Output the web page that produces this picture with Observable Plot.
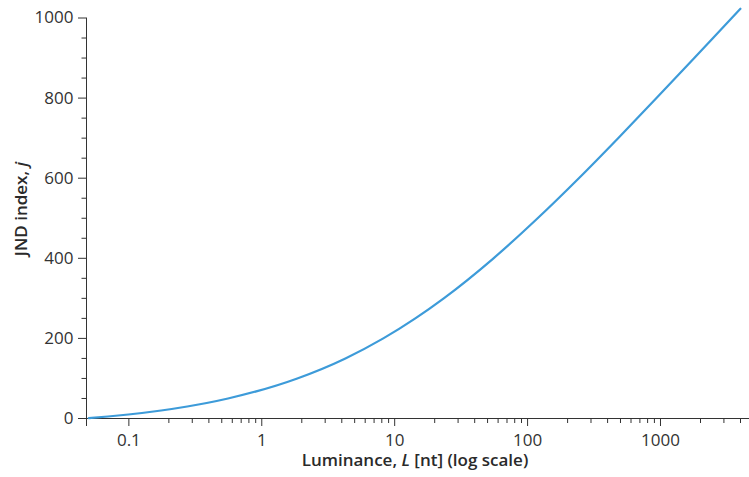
<!DOCTYPE html>
<html>
<head>
<meta charset="utf-8">
<script src="https://cdn.jsdelivr.net/npm/d3@7"></script>
<script src="https://cdn.jsdelivr.net/npm/@observablehq/plot@0.6"></script>
<style>
  html, body { margin: 0; padding: 0; background: #fff; }
  #chart svg { display: block; }
</style>
</head>
<body>
<div id="chart"></div>
<script>
// Luminance (nt)
const luminance = [0.05, 0.0696, 0.0991, 0.175, 0.275, 0.557, 1.85, 4.26, 8.21, 14.3, 23.4, 55.4, 119, 243, 480, 933, 1796, 3437, 3993];
// JND index at those luminances
const jndIndex = [1, 5, 10, 20, 30, 50, 100, 150, 200, 250, 300, 400, 500, 600, 700, 800, 900, 1000, 1023];

const xDomain = [0.048, 4674];
const yDomain = [0, 1000];
const xMajorTicks = [0.1, 1, 10, 100, 1000];
const xTickLabels = ["0.1", "1", "10", "100", "1000"];
const xMinorTicks = [
  0.2, 0.3, 0.4, 0.5, 0.6, 0.7, 0.8, 0.9,
  2, 3, 4, 5, 6, 7, 8, 9,
  20, 30, 40, 50, 60, 70, 80, 90,
  200, 300, 400, 500, 600, 700, 800, 900,
  2000, 3000, 4000];
const yMajorTicks = [0, 200, 400, 600, 800, 1000];
const yMinorTicks = [50, 100, 150, 250, 300, 350, 450, 500, 550, 650, 700, 750, 850, 900, 950];

const data = luminance.map((L, i) => ({L, j: jndIndex[i]}));
const fontFamily = "'Open Sans', 'Noto Sans', sans-serif";
const ink = "#333";

const plot = Plot.plot({
  width: 749,
  height: 477,
  marginLeft: 86,
  marginRight: 0,
  marginTop: 17.5,
  marginBottom: 59,
  style: {fontFamily, background: "#fff", color: ink, overflow: "visible"},
  x: {type: "log", domain: xDomain},
  y: {domain: yDomain},
  marks: [
    Plot.ruleY([yDomain[0]], {stroke: ink, strokeWidth: 1}),
    Plot.ruleX([xDomain[0]], {stroke: ink, strokeWidth: 1}),
    Plot.axisX({ticks: [xDomain[0]], tickSize: 8, tickFormat: () => "", stroke: ink, label: null}),
    Plot.axisX({ticks: xMinorTicks, tickSize: 5, tickFormat: () => "", stroke: ink, label: null}),
    Plot.axisX({ticks: xMajorTicks, tickSize: 8, tickPadding: 7, fontSize: 17,
      tickFormat: d => xTickLabels[xMajorTicks.indexOf(d)], stroke: ink, fill: ink, label: null}),
    Plot.axisY({ticks: yMinorTicks, tickSize: 4.5, tickFormat: () => "", stroke: ink, label: null}),
    Plot.axisY({ticks: yMajorTicks, tickSize: 8, tickPadding: 5, fontSize: 17,
      tickFormat: d => String(d), stroke: ink, fill: ink, label: null}),
    Plot.line(data, {x: "L", y: "j", stroke: "#3d9bd9", strokeWidth: 2.2, curve: "monotone-x"})
  ]
});

document.getElementById("chart").appendChild(plot);

const svg = d3.select(plot);
const xl = svg.append("text")
  .attr("x", 415).attr("y", 466)
  .attr("text-anchor", "middle")
  .attr("font-family", fontFamily)
  .attr("font-size", 17)
  .attr("font-weight", 600)
  .attr("fill", "#2a2a2a");
xl.append("tspan").text("Luminance, ");
xl.append("tspan").attr("font-style", "italic").text("L");
xl.append("tspan").text(" [nt] (log scale)");

const yl = svg.append("text")
  .attr("transform", "translate(27,209) rotate(-90)")
  .attr("text-anchor", "middle")
  .attr("font-family", fontFamily)
  .attr("font-size", 17)
  .attr("font-weight", 600)
  .attr("fill", "#2a2a2a");
yl.append("tspan").text("JND index, ");
yl.append("tspan").attr("font-style", "italic").text("j");
</script>
</body>
</html>
